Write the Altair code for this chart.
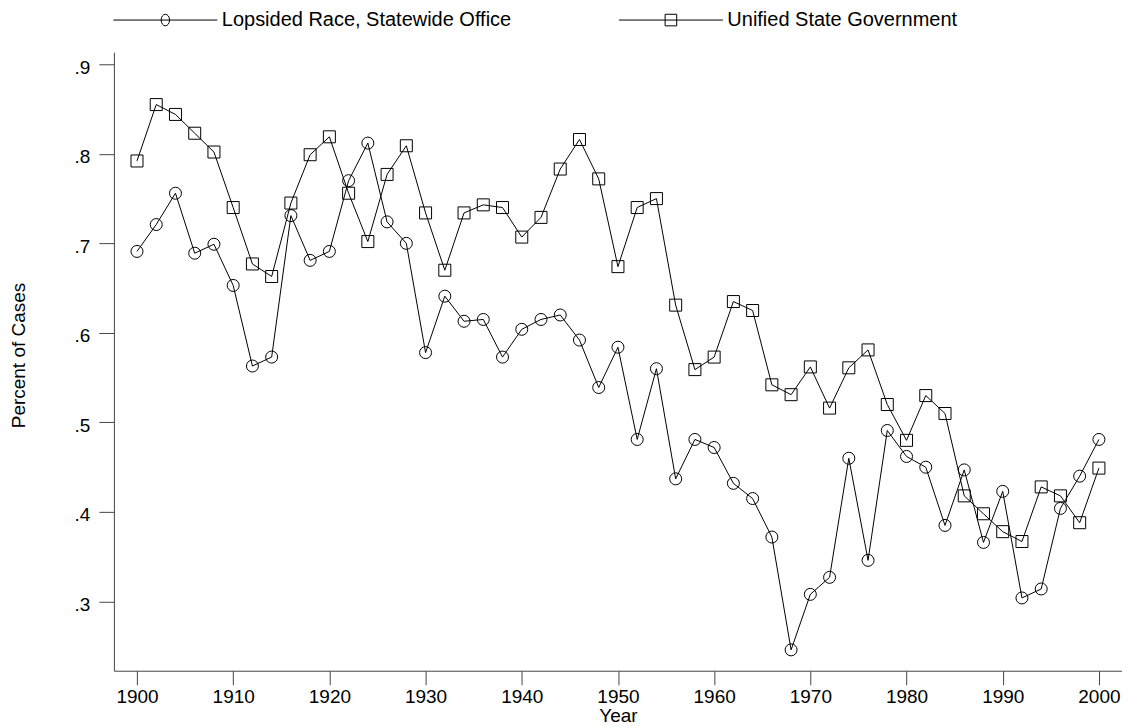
import altair as alt
import pandas as pd

years = list(range(1900, 2001, 2))
lopsided = [.691, .721, .756, .689, .699, .653,
            .563, .573, .731, .681, .691,
            .770, .812, .724, .700, .578,
            .641, .613, .615, .573, .604,
            .615, .620, .592, .539, .584,
            .481, .560, .437, .481, .472,
            .432, .415, .372, .246, .308,
            .327, .460, .346, .491, .462,
            .450, .385, .447, .366, .423,
            .304, .314, .404, .440, .481]
unified = [.792, .855, .844, .823, .802, .740,
           .677, .663, .745, .799, .819,
           .756, .702, .777, .809, .734,
           .670, .734, .743, .740, .707,
           .729, .783, .816, .772, .674,
           .740, .750, .631, .559, .573,
           .635, .625, .542, .531, .562,
           .516, .561, .581, .520, .480,
           .530, .510, .418, .398, .378,
           .367, .428, .418, .388, .449]
series_names = ["Lopsided Race, Statewide Office", "Unified State Government"]
x_ticks = list(range(1900, 2001, 10))
y_ticks = [.3, .4, .5, .6, .7, .8, .9]

rows = []
for y, v in zip(years, lopsided):
    rows.append({"Year": y, "value": v, "series": series_names[0], "key": series_names[0]})
for y, v in zip(years, unified):
    rows.append({"Year": y, "value": v, "series": series_names[1], "key": series_names[1]})
df = pd.DataFrame(rows)

FONT = "Liberation Sans"
FS = 19
AX = "#444444"

xenc = alt.X("Year:Q",
             scale=alt.Scale(domain=[1897.6, 2002.4], nice=False, zero=False),
             axis=alt.Axis(values=x_ticks, format="d", grid=False, tickSize=14,
                           tickColor=AX, domainColor=AX, tickWidth=1, domainWidth=1,
                           labelFont=FONT, labelFontSize=FS, labelColor="black",
                           labelPadding=3, labelFlush=False,
                           title="Year", titleFont=FONT, titleFontSize=FS,
                           titleFontWeight="normal", titleColor="black",
                           titleBaseline="alphabetic", titleY=51))
yenc = alt.Y("value:Q",
             scale=alt.Scale(domain=[0.2227, 0.9134], nice=False, zero=False),
             axis=alt.Axis(values=y_ticks, grid=False, tickSize=15,
                           tickColor=AX, domainColor=AX, tickWidth=1, domainWidth=1,
                           labelExpr="substring(format(datum.value, '.1f'), 1)",
                           labelFont=FONT, labelFontSize=FS, labelColor="black",
                           labelPadding=9, labelOffset=3, labelFlush=False,
                           title="Percent of Cases", titleFont=FONT, titleFontSize=FS,
                           titleFontWeight="normal", titleColor="black",
                           titleBaseline="alphabetic", titleX=-89, titleY=303))

# legend glyphs: a line with the marker in its middle
leg_circle = "M-1,0L9.4,0M4.62,0A0.42,0.58 0 1,1 3.78,0A0.42,0.58 0 1,1 4.62,0Z"
leg_square = "M-1,0L9.4,0M3.62,-0.58L4.78,-0.58L4.78,0.58L3.62,0.58Z"

lines = alt.Chart(df).mark_line(color="black", strokeWidth=1).encode(
    x=xenc, y=yenc, detail="series:N")

points = alt.Chart(df).mark_point(filled=False, size=144, strokeWidth=1,
                                  color="black", opacity=1).encode(
    x=xenc, y=yenc,
    shape=alt.Shape("series:N",
                    scale=alt.Scale(domain=series_names, range=["circle", "square"]),
                    legend=None))

legend_layer = alt.Chart(df).mark_point(filled=False, size=144, strokeWidth=1,
                                        color="black", opacity=0).encode(
    x=xenc, y=yenc,
    shape=alt.Shape("key:N",
                    scale=alt.Scale(domain=series_names, range=[leg_circle, leg_square]),
                    legend=alt.Legend(title=None, orient="none", direction="horizontal",
                                      legendX=-1, legendY=-43,
                                      symbolSize=400, labelOffset=88,
                                      columnPadding=105, labelLimit=600,
                                      symbolOpacity=1, symbolFillColor="transparent",
                                      symbolStrokeColor="black", symbolStrokeWidth=1,
                                      labelFont=FONT, labelFontSize=20,
                                      labelColor="black")))

chart = alt.layer(lines, points, legend_layer).resolve_scale(
    shape="independent"
).resolve_legend(shape="independent").properties(
    width=1009, height=619,
    autosize=alt.AutoSizeParams(type="none"),
    padding={"left": 106, "top": 44, "right": 0, "bottom": 56},
    background="white",
).configure_view(stroke=None)

chart.save("out.html", embed_options={"renderer": "svg", "actions": False})
